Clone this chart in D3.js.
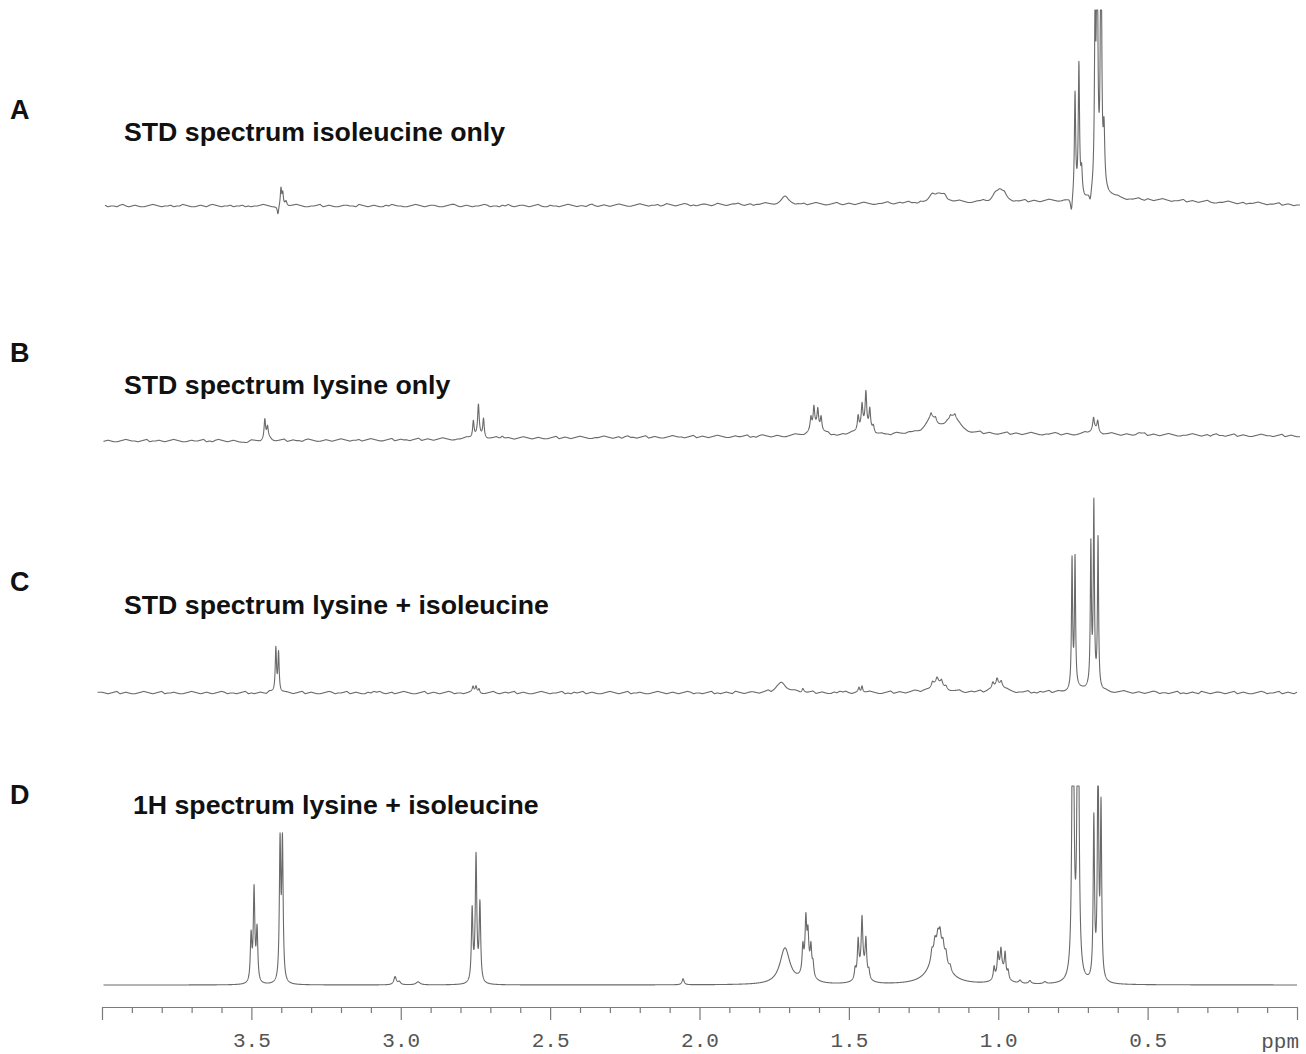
<!DOCTYPE html>
<html><head><meta charset="utf-8">
<script src="https://cdn.jsdelivr.net/npm/d3@7"></script>
<style>body{margin:0;background:#fff}svg{display:block}</style>
</head><body>
<svg id="chart" width="1306" height="1054"></svg>
<script>
// ---------------- DATA ----------------
const panelLetters = ["A", "B", "C", "D"];
const panelTitles = [
  "STD spectrum isoleucine only",
  "STD spectrum lysine only",
  "STD spectrum lysine + isoleucine",
  "1H spectrum lysine + isoleucine"
];
const majorTicks = [4.0, 3.5, 3.0, 2.5, 2.0, 1.5, 1.0, 0.5, 0.0];
const tickLabels = ["", "3.5", "3.0", "2.5", "2.0", "1.5", "1.0", "0.5", ""];
const minorTicks = [3.9,3.8,3.7,3.6,3.4,3.3,3.2,3.1,2.9,2.8,2.7,2.6,2.4,2.3,2.2,2.1,1.9,1.8,1.7,1.6,1.4,1.3,1.2,1.1,0.9,0.8,0.7,0.6,0.4,0.3,0.2,0.1];
const axisUnit = "ppm";

// baseline drift (intensity) read at these ppm values
const driftPpm = [4.0, 3.5, 3.0, 2.5, 2.0, 1.5, 1.0, 0.5, 0.0];
const driftA = [0, 0, 0, 0, 1, 2, 4, 6, 1];
const driftB = [0, 0, 1, 3, 4, 5, 7, 6, 5];
const driftC = [0, 0, 0, 0, 0, 0, 0, 0, 0];
const driftD = [0, 0, 0, 0, 0, 0, 0, 0, 0];

// spectral ranges (ppm)
const extentA = [3.99, -0.01];
const extentB = [3.995, -0.01];
const extentC = [4.015, 0.0];
const extentD = [3.995, 0.0];

// peaks: [ppm, intensity, half-width (ppm)]
const peaksA = [
  [3.411, -9, 0.003], [3.401, 17, 0.0025], [3.395, 12, 0.0025], [3.384, 5, 0.004],
  [1.715, 7, 0.015],
  [1.222, 5, 0.012], [1.200, 8, 0.015], [1.180, 5, 0.012],
  [1.010, 7, 0.010], [0.995, 9, 0.012], [0.980, 5, 0.010],
  [0.755, -16, 0.004], [0.743, 104, 0.0025], [0.730, 132, 0.0025], [0.721, 25, 0.003],
  [0.692, -10, 0.004], [0.676, 160, 0.0025], [0.669, 300, 0.0025], [0.656, 300, 0.0025],
  [0.646, 55, 0.003], [0.640, 6, 0.03]
];
const peaksB = [
  [3.515, -2, 0.010],
  [3.455, 20, 0.003], [3.446, 11, 0.003], [3.440, 3, 0.010],
  [2.757, 17, 0.003], [2.740, 29, 0.003], [2.723, 19, 0.003], [2.740, 4, 0.012], [2.660, 3, 0.005],
  [1.610, 10, 0.020], [1.627, 12, 0.003], [1.617, 20, 0.003], [1.604, 18, 0.003], [1.593, 13, 0.003],
  [1.450, 10, 0.020], [1.469, 14, 0.003], [1.456, 22, 0.003], [1.443, 34, 0.003], [1.430, 20, 0.003], [1.418, 5, 0.003],
  [1.300, 2, 0.010],
  [1.222, 15, 0.025], [1.152, 17, 0.025], [1.225, 4, 0.003], [1.210, 3, 0.003], [1.160, 3, 0.003], [1.145, 3, 0.003],
  [0.680, 6, 0.015], [0.681, 11, 0.003], [0.667, 10, 0.003],
  [0.530, 2, 0.010]
];
const peaksC = [
  [3.418, 44, 0.0025], [3.409, 40, 0.0025],
  [2.758, 5, 0.003], [2.748, 6, 0.003], [2.738, 4, 0.003],
  [1.725, 11, 0.018], [1.654, 4, 0.004],
  [1.466, 5, 0.003], [1.456, 7, 0.003],
  [1.205, 9, 0.030], [1.220, 4, 0.004], [1.205, 5, 0.004], [1.190, 5, 0.004], [1.175, 3, 0.004],
  [1.000, 8, 0.020], [1.018, 6, 0.004], [1.004, 7, 0.004], [0.990, 5, 0.004],
  [0.753, 128, 0.0022], [0.743, 128, 0.0022],
  [0.690, 140, 0.0022], [0.680, 180, 0.0022], [0.666, 150, 0.0022],
  [0.710, 4, 0.050]
];
const peaksD = [
  [3.501, 46, 0.003], [3.491, 92, 0.003], [3.481, 52, 0.003],
  [3.404, 137, 0.0028], [3.396, 137, 0.0028],
  [3.019, 8, 0.005], [3.005, 3, 0.005], [2.942, 3, 0.008],
  [2.761, 72, 0.003], [2.748, 125, 0.003], [2.735, 78, 0.003],
  [2.055, 6, 0.004],
  [1.714, 36, 0.020],
  [1.640, 18, 0.015], [1.654, 25, 0.003], [1.644, 45, 0.003], [1.637, 30, 0.003], [1.627, 25, 0.003], [1.620, 12, 0.003],
  [1.455, 15, 0.015], [1.479, 10, 0.003], [1.469, 35, 0.003], [1.456, 50, 0.003], [1.443, 35, 0.003], [1.433, 8, 0.003],
  [1.200, 38, 0.030], [1.222, 10, 0.004], [1.212, 12, 0.004], [1.202, 12, 0.004], [1.195, 15, 0.004], [1.185, 12, 0.004], [1.175, 10, 0.004], [1.161, 5, 0.004],
  [0.990, 15, 0.016], [1.014, 12, 0.003], [1.001, 20, 0.003], [0.991, 19, 0.003], [0.977, 22, 0.003], [0.967, 8, 0.003],
  [0.927, 3, 0.005], [0.894, 3, 0.005], [0.844, 2, 0.005],
  [0.750, 400, 0.0033], [0.733, 400, 0.0033],
  [0.680, 160, 0.0026], [0.666, 230, 0.0026], [0.656, 170, 0.0026]
];

// baseline noise read every 0.01 ppm from 4.00 downwards (digit - 4)
const noiseA =
  "45344356434543345654344534465433454356543445344534" +
  "34456543345434565433445634543345544365434543354654" +
  "43345654345543345664345434456534435464345543456433" +
  "54434565434435643454345654334565434453465434565343" +
  "45543465434556434534456543345654344534565433456434" +
  "54345654334456434545644354456434534456543345564343" +
  "45654344563454345654334456544345634543456543445643" +
  "54345654344563454345643344565434534456543445634543" + "4";
const noiseB =
  "34543345654434563445434565433454456343565434543345" +
  "65434543345634544356543345434565434453456543345634" +
  "54434563454345654334456534543345643454345654345433" +
  "45634543456543344565434535644345634543345654434563" +
  "45434565433454456343565434543345654345433456343454" +
  "56543345634544356543345434565434453456543345634543" +
  "34563454345654334456534543345643454345654345433456" +
  "34543456543344565434535644345634543345654434563454" + "3";
const noiseC =
  "54345634543345654345634454334565434543456534434563" +
  "43454365434554345634543345653445634543354656434534" +
  "56543345634543456534434565433456434545634543345654" +
  "34456343545634543345654345634454334565434543456534" +
  "43456343454365434554345634543345653445634543354656" +
  "43453456543345634543456534434565433456434545634543" +
  "34565434456343545634543345654345634454334565434543" +
  "45653443456343454365434554345634543345653445634543" + "5";
const noiseD = "";

// ---------------- LAYOUT ----------------
const svg = d3.select("#chart");
const x = d3.scaleLinear().domain([4.0, 0.0]).range([102, 1297]);

const panels = [
  { peaks: peaksA, drift: driftA, noise: noiseA, extent: extentA, base: 206, clip: 10,  letterY: 119, titleX: 124, titleY: 141 },
  { peaks: peaksB, drift: driftB, noise: noiseB, extent: extentB, base: 441, clip: 0,   letterY: 362, titleX: 124, titleY: 394 },
  { peaks: peaksC, drift: driftC, noise: noiseC, extent: extentC, base: 693, clip: 0,   letterY: 591, titleX: 124, titleY: 614 },
  { peaks: peaksD, drift: driftD, noise: noiseD, extent: extentD, base: 985, clip: 786, letterY: 804, titleX: 133, titleY: 814 }
];

function buildSpectrum(peaks, drift, noise, extent) {
  const driftScale = d3.scaleLinear().domain(driftPpm).range(drift);
  const digits = noise.split("").map(Number);
  const noiseScale = digits.length
    ? d3.scaleLinear().domain(digits.map((_, i) => 4.0 - i * 0.01)).range(digits.map(d => (d - 4) * 0.8)).clamp(true)
    : () => 0;
  const step = 0.0005;
  const n = Math.round((extent[0] - extent[1]) / step);
  const pts = [];
  for (let i = 0; i <= n; i++) {
    const p = extent[0] - i * step;
    let v = driftScale(p) + noiseScale(p);
    for (const [c, h, w] of peaks) {
      const t = (p - c) / w;
      v += h / (1 + t * t);
    }
    pts.push([p, v]);
  }
  return pts;
}

panels.forEach((P, i) => {
  const top = P.clip;
  const y = d3.scaleLinear().domain([-100, P.base - top]).range([P.base + 100, top]).clamp(true);
  const pts = buildSpectrum(P.peaks, P.drift, P.noise, P.extent);
  const line = d3.line().x(d => x(d[0])).y(d => y(d[1]));
  svg.append("path")
    .datum(pts)
    .attr("d", line)
    .attr("fill", "none")
    .attr("stroke", "#6a6a6a")
    .attr("stroke-width", 1.1)
    .attr("stroke-linejoin", "round");

  svg.append("text")
    .attr("x", 10).attr("y", P.letterY)
    .attr("font-family", "Arial, 'Liberation Sans', sans-serif")
    .attr("font-weight", "bold").attr("font-size", 27)
    .attr("fill", "#111")
    .text(panelLetters[i]);
  svg.append("text")
    .attr("x", P.titleX).attr("y", P.titleY)
    .attr("font-family", "Arial, 'Liberation Sans', sans-serif")
    .attr("font-weight", "bold").attr("font-size", 26.7)
    .attr("fill", "#111")
    .text(panelTitles[i]);
});

// ---------------- AXIS ----------------
const axisY = 1007;
const gMinor = svg.append("g").attr("transform", `translate(0,${axisY})`)
  .call(d3.axisBottom(x).tickValues(minorTicks).tickSize(6).tickSizeOuter(0).tickFormat(""));
const gMajor = svg.append("g").attr("transform", `translate(0,${axisY})`)
  .call(d3.axisBottom(x).tickValues(majorTicks).tickSize(13).tickSizeOuter(0).tickPadding(12)
    .tickFormat((d, i) => tickLabels[i]));
[gMinor, gMajor].forEach(g => {
  g.selectAll("path.domain").attr("stroke", "#7a7a7a").attr("stroke-width", 1.2);
  g.selectAll(".tick line").attr("stroke", "#7a7a7a").attr("stroke-width", 1.2);
});
gMajor.selectAll(".tick text")
  .attr("font-family", "'Liberation Mono', 'DejaVu Sans Mono', monospace")
  .attr("font-size", 21).attr("fill", "#555");
svg.append("text")
  .attr("x", x(0.0) + 2).attr("y", axisY + 41)
  .attr("text-anchor", "end")
  .attr("font-family", "'Liberation Mono', 'DejaVu Sans Mono', monospace")
  .attr("font-size", 21).attr("fill", "#555")
  .text(axisUnit);
</script>
</body></html>
